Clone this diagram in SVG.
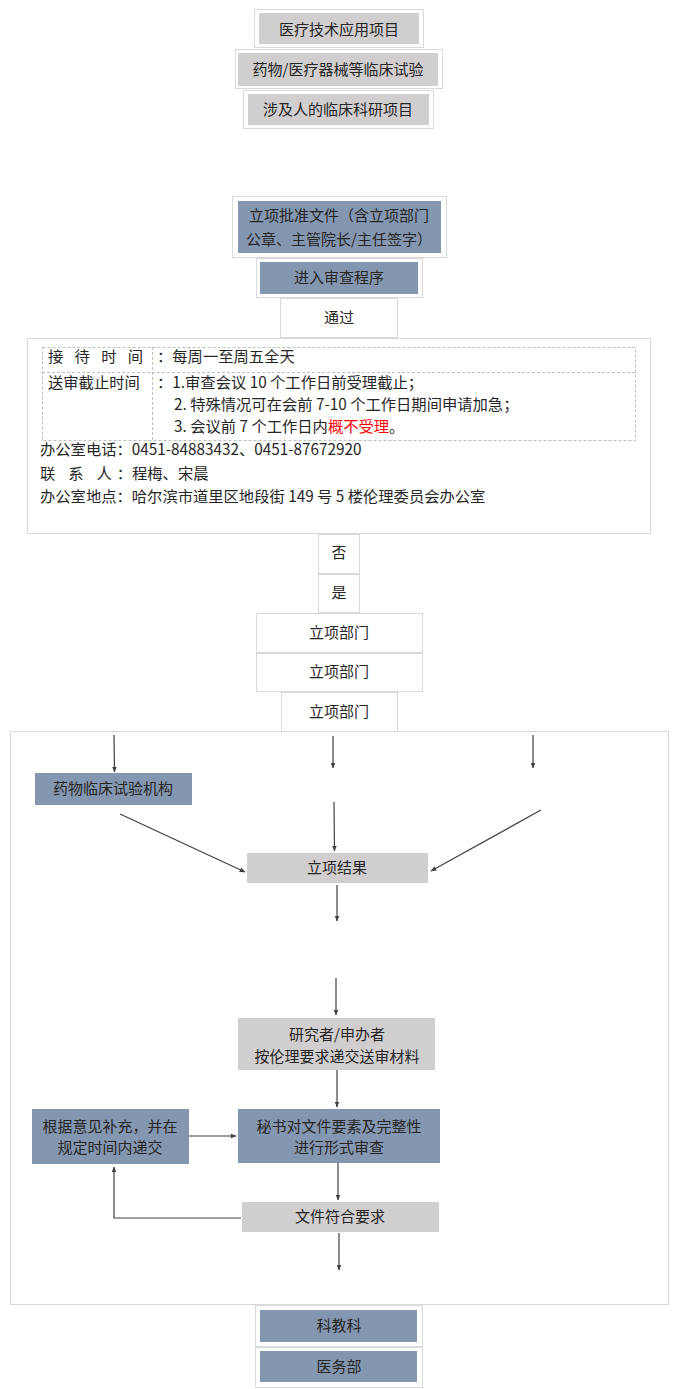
<svg xmlns="http://www.w3.org/2000/svg" width="680" height="1389" viewBox="0 0 680 1389">
<defs>
<marker id="ah" viewBox="0 0 10 10" refX="9" refY="5" markerWidth="6" markerHeight="6" orient="auto" markerUnits="userSpaceOnUse">
<path d="M0,1 L10,5 L0,9 z" fill="#404040"/>
</marker>
</defs>
<style>
text{font-family:"Microsoft YaHei","Noto Sans CJK SC","Noto Sans",sans-serif;font-size:15px;fill:#262626}
#info text{font-size:15.3px}
.c{text-anchor:middle}
.frame{fill:#fff;stroke:#d9d9d9;stroke-width:1}
.gray{fill:#d0cece}
.blue{fill:#8497b0}
.cont{fill:none;stroke:#d9d9d9;stroke-width:1}
.dash{fill:none;stroke:#bfbfbf;stroke-width:1;stroke-dasharray:3 2}
.ln{fill:none;stroke:#404040;stroke-width:1.2}
.arr{fill:none;stroke:#404040;stroke-width:1.2;marker-end:url(#ah)}
.red{fill:#ff0000}
</style>
<rect width="680" height="1389" fill="#fff"/>

<g id="n1"><rect class="frame" x="254.500" y="9.500" width="169" height="38"/><rect class="gray" x="259" y="13" width="160" height="31"/><text class="c" x="339" y="35">医疗技术应用项目</text></g>
<g id="n2"><rect class="frame" x="235.500" y="49.500" width="207" height="39"/><rect class="gray" x="238" y="53" width="200" height="33"/><text class="c" x="338" y="75">药物/医疗器械等临床试验</text></g>
<g id="n3"><rect class="frame" x="243.500" y="90.500" width="190" height="38"/><rect class="gray" x="248" y="94" width="181" height="31"/><text class="c" x="338" y="115">涉及人的临床科研项目</text></g>

<g id="n4"><rect class="frame" x="232.500" y="196.500" width="214" height="61"/><rect class="blue" x="238" y="201" width="203" height="52"/><text class="c" x="339" y="221">立项批准文件（含立项部门</text><text class="c" x="339" y="245">公章、主管院长/主任签字）</text></g>
<g id="n5"><rect class="frame" x="256.500" y="258.500" width="166" height="39"/><rect class="blue" x="260" y="262" width="158" height="32"/><text class="c" x="339" y="283">进入审查程序</text></g>
<g id="n6"><rect class="frame" x="280.500" y="298.500" width="117" height="39"/><text class="c" x="339" y="323">通过</text></g>

<g id="info">
<rect class="cont" x="27.500" y="338.500" width="623" height="195"/>
<rect class="dash" x="42.500" y="347.500" width="593" height="93"/>
<line class="dash" x1="42" y1="372.500" x2="636" y2="372.500"/>
<line class="dash" x1="152.500" y1="347" x2="152.500" y2="441"/>
<text x="48" y="362" textLength="95" lengthAdjust="spacing">接 待 时 间</text>
<text x="157" y="362">：每周一至周五全天</text>
<text x="48" y="388">送审截止时间</text>
<text x="157" y="388">：1.审查会议 10 个工作日前受理截止；</text>
<text x="174" y="410">2. 特殊情况可在会前 7-10 个工作日期间申请加急；</text>
<text x="174" y="432">3. 会议前 7 个工作日内<tspan class="red">概不受理</tspan>。</text>
<text x="40" y="455">办公室电话：0451-84883432、0451-87672920</text>
<text x="40" y="479" textLength="92" lengthAdjust="spacing">联 系 人：</text>
<text x="132" y="479">程梅、宋晨</text>
<text x="40" y="502">办公室地点：哈尔滨市道里区地段街 149 号 5 楼伦理委员会办公室</text>
</g>

<g id="n7"><rect class="frame" x="318.500" y="534.500" width="41" height="39"/><text class="c" x="339" y="558">否</text></g>
<g id="n8"><rect class="frame" x="318.500" y="574.500" width="41" height="38"/><text class="c" x="339" y="598">是</text></g>
<g id="n9"><rect class="frame" x="256.500" y="613.500" width="166" height="39"/><text class="c" x="339" y="638">立项部门</text></g>
<g id="n10"><rect class="frame" x="256.500" y="653.500" width="166" height="38"/><text class="c" x="339" y="677">立项部门</text></g>
<g id="n11"><rect class="frame" x="281.500" y="692.500" width="116" height="39"/><text class="c" x="339" y="717">立项部门</text></g>

<g id="container"><rect class="cont" x="10.500" y="731.500" width="658" height="573"/></g>

<g id="n12"><rect class="blue" x="35" y="773" width="157" height="32"/><text class="c" x="113" y="794">药物临床试验机构</text></g>
<g id="n13"><rect class="gray" x="247" y="853" width="181" height="30"/><text class="c" x="337" y="873">立项结果</text></g>
<g id="n14"><rect class="gray" x="238" y="1018" width="197" height="52"/><text class="c" x="337" y="1040">研究者/申办者</text><text class="c" x="337" y="1062">按伦理要求递交送审材料</text></g>
<g id="n15"><rect class="blue" x="238" y="1109" width="202" height="54"/><text class="c" x="339" y="1132">秘书对文件要素及完整性</text><text class="c" x="339" y="1153">进行形式审查</text></g>
<g id="n16"><rect class="blue" x="32" y="1109" width="157" height="55"/><text class="c" x="110" y="1132">根据意见补充，并在</text><text class="c" x="110" y="1153">规定时间内递交</text></g>
<g id="n17"><rect class="gray" x="242" y="1202" width="197" height="30"/><text class="c" x="340" y="1222">文件符合要求</text></g>

<g id="n18"><rect class="frame" x="255.500" y="1305.500" width="167" height="41"/><rect class="blue" x="260" y="1310" width="157" height="32"/><text class="c" x="339" y="1331">科教科</text></g>
<g id="n19"><rect class="frame" x="255.500" y="1347.500" width="167" height="40"/><rect class="blue" x="260" y="1351" width="157" height="31"/><text class="c" x="339" y="1372">医务部</text></g>

<g id="connectors">
<line class="arr" x1="114" y1="735" x2="114.500" y2="772"/>
<line class="arr" x1="333" y1="736" x2="333" y2="768"/>
<line class="arr" x1="533" y1="735" x2="533" y2="768"/>
<line class="arr" x1="120" y1="814" x2="245" y2="872"/>
<line class="arr" x1="334" y1="802" x2="334.500" y2="851"/>
<line class="arr" x1="541" y1="810" x2="431" y2="871"/>
<line class="arr" x1="337" y1="885" x2="337" y2="921"/>
<line class="arr" x1="336" y1="978" x2="336" y2="1015"/>
<line class="arr" x1="337" y1="1070" x2="337" y2="1107"/>
<line class="arr" x1="189" y1="1136" x2="236" y2="1136"/>
<line class="arr" x1="338" y1="1163" x2="338" y2="1200"/>
<path class="arr" d="M241,1218 H114 V1167"/>
<line class="arr" x1="339" y1="1233" x2="339" y2="1270"/>
</g>
</svg>
